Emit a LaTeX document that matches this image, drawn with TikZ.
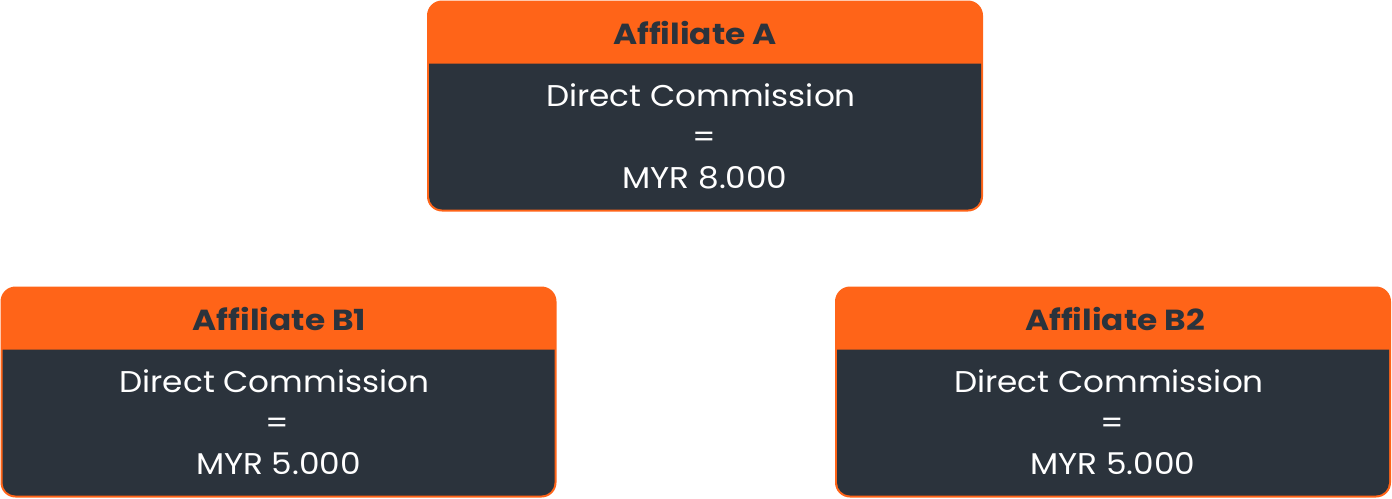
\documentclass[tikz,border=0pt]{standalone}
\usepackage{fontspec}
\setmainfont{Poppins}
\newfontfamily\bodyf[FakeStretch=1.09]{Poppins}
\newfontfamily\titlef[FakeStretch=1.13]{Poppins}
\usetikzlibrary{calc}
\definecolor{hdr}{HTML}{FF6418}
\definecolor{bodyc}{HTML}{2B333C}
\tikzset{
  x=1pt,y=-1pt,
  outerbox/.style={fill=hdr, rounded corners=15pt, draw=none, minimum width=556pt, minimum height=211pt, inner sep=0pt, outer sep=0pt},
  titletxt/.style={font=\titlef\fontsize{29}{34}\selectfont\bfseries, text=bodyc, anchor=base, inner sep=0pt},
  bodytxt/.style={font=\bodyf\fontsize{30}{36}\selectfont, text=white, anchor=base, inner sep=0pt},
}
\newcommand\affbox[6]{% name, left, top, title, amount, title shift
  \node[outerbox] (#1) at (#2+278,#3+105.5) {};
  \fill[bodyc] (#2+2,#3+63) [rounded corners=13pt] -- (#2+2,#3+209) -- (#2+554,#3+209) [sharp corners] -- (#2+554,#3+63) -- cycle;
  \node[titletxt] (#1t) at (#2+278+#6,#3+44) {#4};
  \node[bodytxt] (#1l1) at (#2+274,#3+106) {Direct Commission};
  \node[bodytxt] (#1l2) at (#2+277,#3+147) {=};
  \node[bodytxt] (#1l3) at (#2+278,#3+188) {MYR #5};
}
\begin{document}
\begin{tikzpicture}
\useasboundingbox (0,0) rectangle (1392,498);
\affbox{a}{427}{0.5}{Affiliate A}{8.000}{-10}
\affbox{bone}{0.5}{286.5}{Affiliate B1}{5.000}{1}
\affbox{btwo}{835}{286.5}{Affiliate B2}{5.000}{2}
\end{tikzpicture}
\end{document}
